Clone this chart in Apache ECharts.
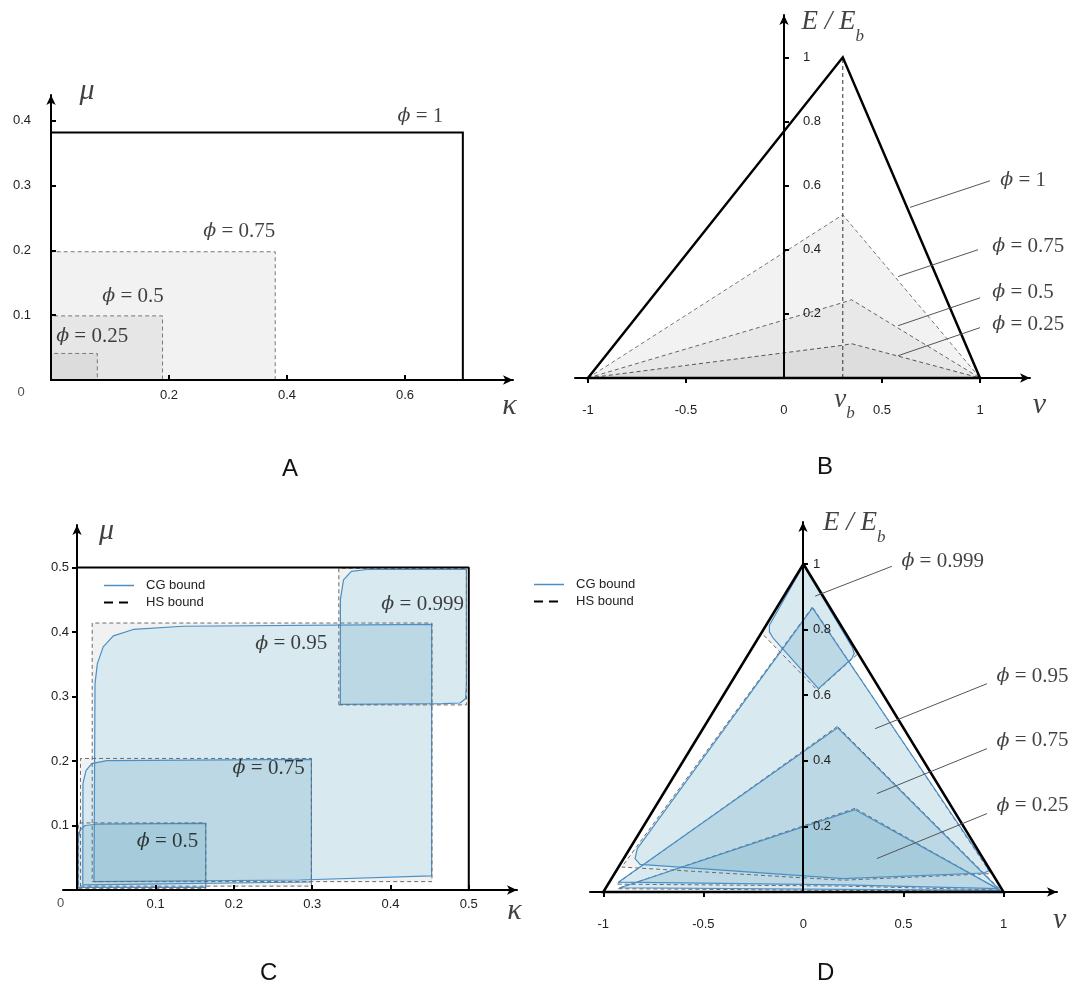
<!DOCTYPE html>
<html>
<head>
<meta charset="utf-8">
<script src="https://cdn.jsdelivr.net/npm/echarts@6/dist/echarts.min.js"></script>
<style>
  html, body { margin: 0; background: #fff; }
  #main { width: 1078px; height: 992px; }
</style>
</head>
<body>
<div id="main"></div>
<script>
// ---------- data ----------

// A: HS rectangles (upper corner kappa, mu) for phi = 1, 0.75, 0.5, 0.25
const phiA = ['1', '0.75', '0.5', '0.25']
const kappaA = [0.698, 0.380, 0.189, 0.0785]
const muA = [0.382, 0.198, 0.099, 0.041]

// B: bounds in (nu, E/Eb)
const nuB = 0.3
const boundB_1 = [[-1, 0], [0.3, 1], [1, 0]]
const boundB_075 = [[-1, 0], [0.3, 0.509], [1, 0]]
const boundB_05 = [[-1, 0], [0.3, 0.235], [0.345, 0.244], [1, 0]]
const boundB_025 = [[-1, 0], [0.3, 0.102], [0.345, 0.107], [1, 0]]

// C: HS rectangles [kMin, kMax] x [muMin, muMax]
const phiC = ['0.999', '0.95', '0.75', '0.5']
const hsC_kmin = [0.334, 0.019, 0.004, 0.0013]
const hsC_kmax = [0.497, 0.453, 0.299, 0.164]
const hsC_mumin = [0.287, 0.013, 0.006, 0.0026]
const hsC_mumax = [0.499, 0.414, 0.204, 0.104]
// C: CG bound outlines
const cgC_0999 = [[0.336, 0.288], [0.336, 0.450], [0.340, 0.481], [0.350, 0.494], [0.370, 0.497],
  [0.497, 0.497], [0.497, 0.320], [0.496, 0.297], [0.489, 0.290], [0.467, 0.289]]
const cgC_095 = [[0.0213, 0.013], [0.0226, 0.320], [0.0256, 0.351], [0.033, 0.377], [0.046, 0.394],
  [0.0715, 0.404], [0.135, 0.409], [0.4526, 0.412], [0.4526, 0.022], [0.284, 0.0155]]
const cgC_075 = [[0.0069, 0.0078], [0.0072, 0.165], [0.011, 0.185], [0.0184, 0.196], [0.0375, 0.2005],
  [0.299, 0.2025], [0.299, 0.0124]]
const cgC_05 = [[0.001, 0.004], [0.001, 0.0775], [0.0034, 0.093], [0.0098, 0.100], [0.0247, 0.102],
  [0.164, 0.1033], [0.164, 0.004]]

// D: outer triangle and bounds in (nu, E/Eb)
const triD = [[-1, 0], [0, 1], [1, 0]]
const hsD_0999 = [[0, 1], [-0.21, 0.79], [0.07, 0.615], [0.27, 0.725]]
const hsD_095 = [[0.045, 0.869], [-0.908, 0.076], [0.2, 0.036], [0.937, 0.056]]
const hsD_075 = [[0.17, 0.505], [-0.935, 0.024], [0.2, 0.018], [0.985, 0.006]]
const hsD_025 = [[0.258, 0.255], [-0.93, 0.010], [0.2, 0.005], [0.99, 0.003]]
const cgD_0999 = [[0, 0.996], [-0.17, 0.813], [-0.17, 0.793], [-0.15, 0.773], [0.075, 0.62],
  [0.242, 0.712], [0.2535, 0.727], [0.245, 0.745]]
const cgD_095 = [[0.045, 0.866], [-0.83, 0.132], [-0.8415, 0.102], [-0.8165, 0.0845], [0.2, 0.041],
  [0.9, 0.058], [0.925, 0.064], [0.915, 0.08]]
const cgD_075 = [[0.17, 0.501], [-0.925, 0.03], [0.2, 0.022], [0.975, 0.010]]
const cgD_025 = [[0.258, 0.251], [-0.917, 0.013], [0.2, 0.008], [0.985, 0.005]]

// tick values
const ticksA_x = [0.2, 0.4, 0.6]
const ticksA_y = [0.1, 0.2, 0.3, 0.4]
const ticksB_x = [-1, -0.5, 0, 0.5, 1]
const ticksB_y = [0.2, 0.4, 0.6, 0.8, 1]
const ticksC_x = [0.1, 0.2, 0.3, 0.4, 0.5]
const ticksC_y = [0.1, 0.2, 0.3, 0.4, 0.5]
const ticksD_x = [-1, -0.5, 0, 0.5, 1]
const ticksD_y = [0.2, 0.4, 0.6, 0.8, 1]

// ---------- styles ----------
const CG_LINE = '#4a8fc6'
const CG_FILL = 'rgba(95,162,192,0.24)'
const HS_FILL = '#f1f1f1'
const HS_LINE = '#6a6a6a'
const SANS = 'Liberation Sans'
const SERIF = 'Liberation Serif'

const RICH = {
  p: {fontFamily: 'DejaVu Serif', fontStyle: 'italic', fontSize: 19, color: '#111'},
  g: {fontFamily: SERIF, fontStyle: 'italic', fontSize: 30, color: '#111'},
  e: {fontFamily: SERIF, fontStyle: 'italic', fontSize: 27, lineHeight: 36, verticalAlign: 'top', color: '#111'},
  s: {fontFamily: SERIF, fontStyle: 'italic', fontSize: 17, lineHeight: 17, verticalAlign: 'bottom', color: '#111'},
  t: {fontFamily: SANS, fontSize: 13, color: '#222'}
}

function axis(gi, min, max, o) {
  return {
    type: 'value', gridIndex: gi, min: min, max: max, z: 5, offset: o.offset || 0,
    splitLine: {show: false},
    axisLine: {onZero: !o.offset, symbol: ['none', 'arrow'], symbolSize: [7, 10], lineStyle: {color: '#000', width: 2}},
    axisTick: {show: true, inside: o.tickInside, length: 5, customValues: o.ticks, lineStyle: {color: '#000', width: 2}},
    axisLabel: {customValues: o.labels || o.ticks, inside: !!o.labelInside, margin: o.margin,
      fontFamily: SANS, fontSize: 13, color: '#222'}
  }
}

function poly(gi, pts, style, z) {
  return {
    type: 'custom', coordinateSystem: 'cartesian2d', xAxisIndex: gi, yAxisIndex: gi,
    data: [[0, 0]], silent: true, clip: false, z: z,
    renderItem: function (params, api) {
      return {
        type: 'polygon',
        shape: {points: pts.map(p => api.coord(p))},
        style: style
      }
    }
  }
}

function line(gi, pts, color, width, dash, name, z) {
  return {
    type: 'line', name: name, xAxisIndex: gi, yAxisIndex: gi, data: pts, symbol: 'none',
    silent: true, clip: false, z: z || 3, color: color,
    lineStyle: {color: color, width: width, type: dash || 'solid'}
  }
}

function closed(pts) { return pts.concat([pts[0]]) }
function rect(k0, k1, m0, m1) { return [[k0, m0], [k1, m0], [k1, m1], [k0, m1]] }

function notes(gi, items) {
  return {
    type: 'scatter', xAxisIndex: gi, yAxisIndex: gi, symbolSize: 1, clip: false, silent: true, z: 6,
    itemStyle: {color: 'rgba(0,0,0,0)'},
    label: {show: true, position: [0, 0], color: '#111', fontFamily: SERIF, fontSize: 21, rich: RICH},
    data: items.map(it => ({
      value: [it[0], it[1]],
      label: {formatter: it[2], align: it[3] || 'left', verticalAlign: 'middle'}
    }))
  }
}

const series = []

// ---- A ----
const grayA = [null, '#f2f2f2', '#e6e6e6', '#dcdcdc']
for (let i = 1; i < phiA.length; i++) {
  series.push(poly(0, rect(0, kappaA[i], 0, muA[i]),
    {fill: grayA[i], stroke: '#777', lineWidth: 1, lineDash: [4, 3]}, 1))
}
series.push(poly(0, rect(0, kappaA[0], 0, muA[0]), {fill: 'none', stroke: '#000', lineWidth: 2}, 3))
series.push(notes(0, [
  [0.588, 0.4065, '{p|ϕ} = ' + phiA[0]],
  [0.259, 0.229, '{p|ϕ} = ' + phiA[1]],
  [0.0876, 0.1286, '{p|ϕ} = ' + phiA[2]],
  [0.0096, 0.0669, '{p|ϕ} = ' + phiA[3]],
  [0.062, 0.445, '{g|μ}', 'center'],
  [0.778, -0.041, '{g|κ}', 'center'],
  [-0.0497, -0.0206, '{t|0}', 'center']
]))

// ---- B ----
series.push(poly(1, boundB_075, {fill: '#f2f2f2', stroke: '#777', lineWidth: 1, lineDash: [4, 3]}, 1))
series.push(poly(1, boundB_05, {fill: '#e8e8e8', stroke: '#666', lineWidth: 1, lineDash: [4, 3]}, 1))
series.push(poly(1, boundB_025, {fill: '#dddddd', stroke: '#555', lineWidth: 1, lineDash: [4, 3]}, 1))
series.push(line(1, [[nuB, 0], [nuB, 1]], '#333', 1, [4, 3], undefined, 2))
series.push(poly(1, boundB_1, {fill: 'none', stroke: '#000', lineWidth: 2.5}, 3))
;[[[1.051, 0.615], [0.643, 0.532]], [[0.990, 0.400], [0.582, 0.3165]],
  [[1.0, 0.250], [0.582, 0.163]], [[1.0, 0.157], [0.582, 0.0695]]].forEach(l => {
  series.push(line(1, l, '#555', 1, 'solid', undefined, 4))
})
series.push(notes(1, [
  [1.106, 0.615, '{p|ϕ} = 1'],
  [1.065, 0.409, '{p|ϕ} = 0.75'],
  [1.065, 0.265, '{p|ϕ} = 0.5'],
  [1.065, 0.166, '{p|ϕ} = 0.25'],
  [0.092, 1.094, '{e|E / E}{s|b}'],
  [0.311, -0.083, '{e|ν}{s|b}', 'center'],
  [1.306, -0.086, '{g|ν}', 'center']
]))

// ---- C ----
const cgC = [cgC_095, cgC_0999, cgC_075, cgC_05]
for (let i = 0; i < phiC.length; i++) {
  series.push(poly(2, rect(hsC_kmin[i], hsC_kmax[i], hsC_mumin[i], hsC_mumax[i]), {fill: HS_FILL}, 1))
}
cgC.forEach(p => series.push(poly(2, p, {fill: '#fff'}, 1.5)))
cgC.forEach(p => series.push(poly(2, p, {fill: CG_FILL}, 2)))
cgC.forEach(p => series.push(line(2, closed(p), CG_LINE, 1.2, 'solid', 'CG bound', 3)))
for (let i = 0; i < phiC.length; i++) {
  series.push(line(2, closed(rect(hsC_kmin[i], hsC_kmax[i], hsC_mumin[i], hsC_mumax[i])),
    HS_LINE, 1, [4, 3], 'HS bound', 3))
}
series.push(line(2, [[0, 0.5], [0.5, 0.5], [0.5, 0]], '#000', 2, 'solid', undefined, 4))
series.push(notes(2, [
  [0.389, 0.442, '{p|ϕ} = ' + phiC[0]],
  [0.228, 0.381, '{p|ϕ} = ' + phiC[1]],
  [0.199, 0.188, '{p|ϕ} = ' + phiC[2]],
  [0.0766, 0.0748, '{p|ϕ} = ' + phiC[3]],
  [0.038, 0.555, '{g|μ}', 'center'],
  [0.559, -0.034, '{g|κ}', 'center'],
  [-0.0208, -0.0217, '{t|0}', 'center']
]))

// ---- D ----
const hsD = [hsD_095, hsD_0999, hsD_075, hsD_025]
const cgD = [cgD_095, cgD_0999, cgD_075, cgD_025]
hsD.forEach(p => series.push(poly(3, p, {fill: HS_FILL}, 1)))
cgD.forEach(p => series.push(poly(3, p, {fill: '#fff'}, 1.5)))
cgD.forEach(p => series.push(poly(3, p, {fill: CG_FILL}, 2)))
hsD.forEach(p => series.push(line(3, closed(p), HS_LINE, 1, [4, 3], 'HS bound', 3)))
cgD.forEach(p => series.push(line(3, closed(p), CG_LINE, 1.2, 'solid', 'CG bound', 3)))
series.push(poly(3, triD, {fill: 'none', stroke: '#000', lineWidth: 2.5}, 4))
;[[[0.442, 0.993], [0.0585, 0.902]], [[0.917, 0.635], [0.3585, 0.498]],
  [[0.917, 0.437], [0.367, 0.300]], [[0.917, 0.239], [0.367, 0.102]]].forEach(l => {
  series.push(line(3, l, '#555', 1, 'solid', undefined, 4))
})
series.push(notes(3, [
  [0.492, 1.006, '{p|ϕ} = 0.999'],
  [0.967, 0.6555, '{p|ϕ} = 0.95'],
  [0.967, 0.460, '{p|ϕ} = 0.75'],
  [0.967, 0.261, '{p|ϕ} = 0.25'],
  [0.1, 1.109, '{e|E / E}{s|b}'],
  [1.283, -0.0875, '{g|ν}', 'center']
]))

const legendData = [
  {name: 'CG bound', itemStyle: {opacity: 0}, lineStyle: {color: CG_LINE, width: 1.5, type: 'solid'}},
  {name: 'HS bound', itemStyle: {opacity: 0}, lineStyle: {color: '#000', width: 2, type: [9, 6]}}
]
function legend(left, top) {
  return {
    data: legendData, left: left, top: top, orient: 'vertical', padding: 0,
    itemWidth: 30, itemHeight: 14, itemGap: 4, selectedMode: false,
    textStyle: {fontFamily: SANS, fontSize: 13, color: '#222', padding: [0, 0, 0, 7]}
  }
}

const letter = (t, left, top) => ({
  text: t, left: left, top: top,
  textStyle: {fontFamily: SANS, fontSize: 24, fontWeight: 'normal', color: '#111'}
})

const chart = echarts.init(document.getElementById('main'))
chart.setOption({
  animation: false,
  backgroundColor: '#fff',
  title: [letter('A', 277, 452), letter('B', 812, 450), letter('C', 255, 956), letter('D', 812, 956)],
  legend: [legend(103, 579), legend(533, 578)],
  grid: [
    {left: 51, top: 95, width: 462, height: 285},
    {left: 575, top: 15, width: 455, height: 363},
    {left: 63, top: 525, width: 454, height: 365},
    {left: 590, top: 522, width: 467, height: 370}
  ],
  xAxis: [
    axis(0, 0, 0.783, {ticks: ticksA_x, tickInside: true, margin: 9}),
    axis(1, -1.066, 1.255, {ticks: [-1, -0.5, 0.5, 1], labels: ticksB_x, tickInside: false, margin: 26}),
    axis(2, -0.0183, 0.5616, {ticks: ticksC_x, tickInside: true, margin: 8}),
    axis(3, -1.0665, 1.267, {ticks: [-1, -0.5, 0.5, 1], labels: ticksD_x, tickInside: false, margin: 26})
  ],
  yAxis: [
    axis(0, 0, 0.44, {ticks: ticksA_y, tickInside: true, margin: 20}),
    axis(1, 0, 1.132, {ticks: ticksB_y, tickInside: true, labelInside: true, margin: 19, offset: -209}),
    axis(2, 0, 0.566, {ticks: ticksC_y, tickInside: false, margin: 8, offset: -14}),
    axis(3, 0, 1.128, {ticks: ticksD_y, tickInside: true, labelInside: true, margin: 10, offset: -213})
  ],
  series: series
})
</script>
</body>
</html>
